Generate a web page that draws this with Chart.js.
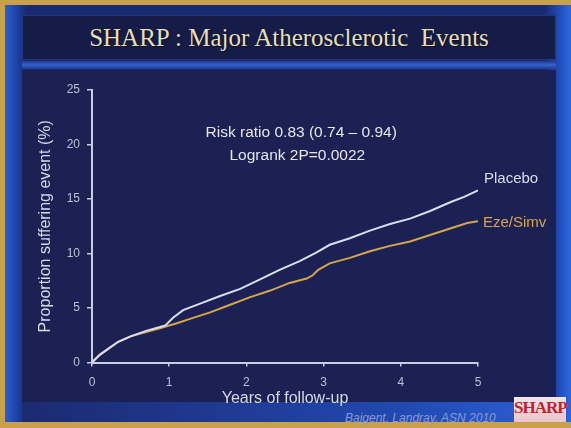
<!DOCTYPE html>
<html>
<head>
<meta charset="utf-8">
<script src="https://cdn.jsdelivr.net/npm/chart.js@4"></script>
<style>
  html, body { margin: 0; padding: 0; }
  body { width: 571px; height: 428px; position: relative; overflow: hidden; background: #c9a14a; }
  .frame {
    position: absolute; left: 5px; top: 5px; width: 566px; height: 417px;
    background: linear-gradient(90deg, #2a5fd0 0px, #1c3c9c 14px, #1a2a72 22px, #1a2a72 540px, #2351c0 556px, #2d6ae0 566px);
  }
  .panel {
    position: absolute; left: 22px; top: 70px; width: 534px; height: 332px;
    background: #1b2152;
  }
  .band {
    position: absolute; left: 22px; top: 61px; width: 534px; height: 8px;
    background: linear-gradient(180deg, #1e3a90, #3563c8 50%, #1e3a90);
  }
  .titlebox {
    position: absolute; left: 22px; top: 15px; width: 534px; height: 45px;
    background: #161c48; box-shadow: inset 0 0 0 1px #26357a;
    color: #e6dfb4; font-family: "Liberation Serif", "DejaVu Serif", serif; font-size: 25px;
    text-align: center; line-height: 45px; text-shadow: 1px 1px 1px #0a0e28;
  }
  .footer {
    position: absolute; left: 22px; top: 402px; width: 534px; height: 20px;
    background: linear-gradient(90deg, #1c2a70, #2148b0 70%, #2b5fd4);
  }
  .cite {
    position: absolute; left: 345px; top: 411px; font-family: "Liberation Sans", Arial, sans-serif;
    font-size: 12px; font-style: italic; color: #8a9ad0; white-space: nowrap;
  }
  .logo {
    position: absolute; left: 514px; top: 397px; width: 52px; height: 25px;
    background: linear-gradient(180deg, #f3e6ea, #e9c4cc);
    color: #c8202c; font-family: "Liberation Serif", serif; font-weight: bold; font-size: 17px;
    line-height: 22px; text-align: center; letter-spacing: -1px;
  }
  canvas { position: absolute; left: 0; top: 0; }
</style>
</head>
<body>
<div class="frame"></div>
<div class="titlebox">SHARP : Major Atherosclerotic&nbsp; Events</div>
<div class="band"></div>
<div class="panel"></div>
<div class="footer"></div>
<div class="cite">Baigent, Landray, ASN 2010</div>
<div class="logo">SHARP</div>
<canvas id="chart" width="571" height="428"></canvas>
<script>
// ============================================================
// Data
// ============================================================
const placeboYears = [0, 0.1, 0.2, 0.34, 0.5, 0.7, 0.88, 0.95, 1.05, 1.18, 1.4, 1.66, 1.92, 2.17, 2.43,
  2.69, 2.91, 3.08, 3.34, 3.6, 3.86, 4.12, 4.38, 4.64, 4.82, 5.0];
const placeboRisk = [0, 0.7, 1.2, 1.9, 2.4, 2.9, 3.25, 3.4, 4.1, 4.8, 5.4, 6.1, 6.75, 7.6, 8.5,
  9.3, 10.1, 10.8, 11.4, 12.1, 12.7, 13.2, 13.9, 14.7, 15.2, 15.8];

const ezeYears = [0, 0.1, 0.2, 0.34, 0.5, 0.7, 0.88, 1.0, 1.1, 1.27, 1.53, 1.79, 2.05, 2.31, 2.56,
  2.78, 2.86, 2.93, 3.08, 3.34, 3.6, 3.86, 4.12, 4.38, 4.64, 4.86, 5.0];
const ezeRisk = [0, 0.7, 1.2, 1.9, 2.4, 2.8, 3.15, 3.4, 3.6, 4.0, 4.6, 5.3, 6.0, 6.6, 7.3,
  7.7, 8.0, 8.5, 9.1, 9.6, 10.2, 10.7, 11.1, 11.7, 12.3, 12.8, 12.95];

const yTicks = [0, 5, 10, 15, 20, 25];
const xTicks = [0, 1, 2, 3, 4, 5];
const statLines = ['Risk ratio 0.83 (0.74 \u2013 0.94)', 'Logrank 2P=0.0022'];

const FONT = "'Liberation Sans', Arial, sans-serif";
const AXIS_COLOR = '#c9cde2';
const TICK_COLOR = '#bcc0d6';
const PLACEBO_COLOR = '#d9ddf3';
const EZE_COLOR = '#d7a54a';

const toPoints = (xs, ys) => xs.map((x, i) => ({ x, y: ys[i] }));

// ============================================================
// Text labels drawn inside the plot
// ============================================================
const labelPlugin = {
  id: 'labels',
  afterDatasetsDraw(chart) {
    const { ctx, scales: { x, y } } = chart;
    ctx.save();
    ctx.textBaseline = 'middle';
    ctx.font = `15px ${FONT}`;
    ctx.textAlign = 'left';
    ctx.fillStyle = PLACEBO_COLOR;
    ctx.fillText('Placebo', x.getPixelForValue(5) + 6, y.getPixelForValue(placeboRisk.at(-1)) - 11);
    ctx.fillStyle = EZE_COLOR;
    ctx.fillText('Eze/Simv', x.getPixelForValue(5) + 5, y.getPixelForValue(ezeRisk.at(-1)) + 2);

    ctx.font = `15.5px ${FONT}`;
    ctx.textAlign = 'center';
    ctx.fillStyle = '#e4e6f2';
    ctx.fillText(statLines[0], x.getPixelForValue(2.71), y.getPixelForValue(21.1));
    ctx.fillText(statLines[1], x.getPixelForValue(2.66), y.getPixelForValue(19.0));
    ctx.restore();
  },
};

new Chart(document.getElementById('chart'), {
  type: 'line',
  data: {
    datasets: [
      {
        label: 'Placebo',
        data: toPoints(placeboYears, placeboRisk),
        borderColor: PLACEBO_COLOR,
        borderWidth: 2,
        pointRadius: 0,
        tension: 0,
      },
      {
        label: 'Eze/Simv',
        data: toPoints(ezeYears, ezeRisk),
        borderColor: EZE_COLOR,
        borderWidth: 2,
        pointRadius: 0,
        tension: 0,
      },
    ],
  },
  options: {
    responsive: false,
    animation: false,
    layout: { padding: { left: 30, top: 90, right: 93, bottom: 17.5 } },
    plugins: { legend: { display: false }, tooltip: { enabled: false } },
    scales: {
      x: {
        type: 'linear',
        min: 0,
        max: 5,
        afterFit: s => { s.height = 48; },
        afterBuildTicks: s => { s.ticks = xTicks.map(v => ({ value: v })); },
        grid: { drawOnChartArea: false, drawTicks: true, tickLength: 4, color: AXIS_COLOR, lineWidth: 1.5 },
        border: { color: AXIS_COLOR, width: 2 },
        ticks: { color: TICK_COLOR, padding: 9, font: { family: FONT, size: 12 } },
        title: {
          display: true,
          text: 'Years of follow-up',
          color: '#d6d9ea',
          padding: { top: 0, bottom: 2.4 },
          font: { family: FONT, size: 16 },
        },
      },
      y: {
        type: 'linear',
        min: 0,
        max: 25,
        afterFit: s => { s.width = 62; },
        afterBuildTicks: s => { s.ticks = yTicks.map(v => ({ value: v })); },
        grid: { drawOnChartArea: false, drawTicks: true, tickLength: 5, color: AXIS_COLOR, lineWidth: 1.5 },
        border: { color: AXIS_COLOR, width: 2 },
        ticks: { color: TICK_COLOR, padding: 7, font: { family: FONT, size: 12 } },
        title: {
          display: true,
          text: 'Proportion suffering event (%)',
          color: '#d6d9ea',
          padding: { top: 6.4, bottom: 0 },
          font: { family: FONT, size: 16 },
        },
      },
    },
  },
  plugins: [labelPlugin],
});
</script>
</body>
</html>
